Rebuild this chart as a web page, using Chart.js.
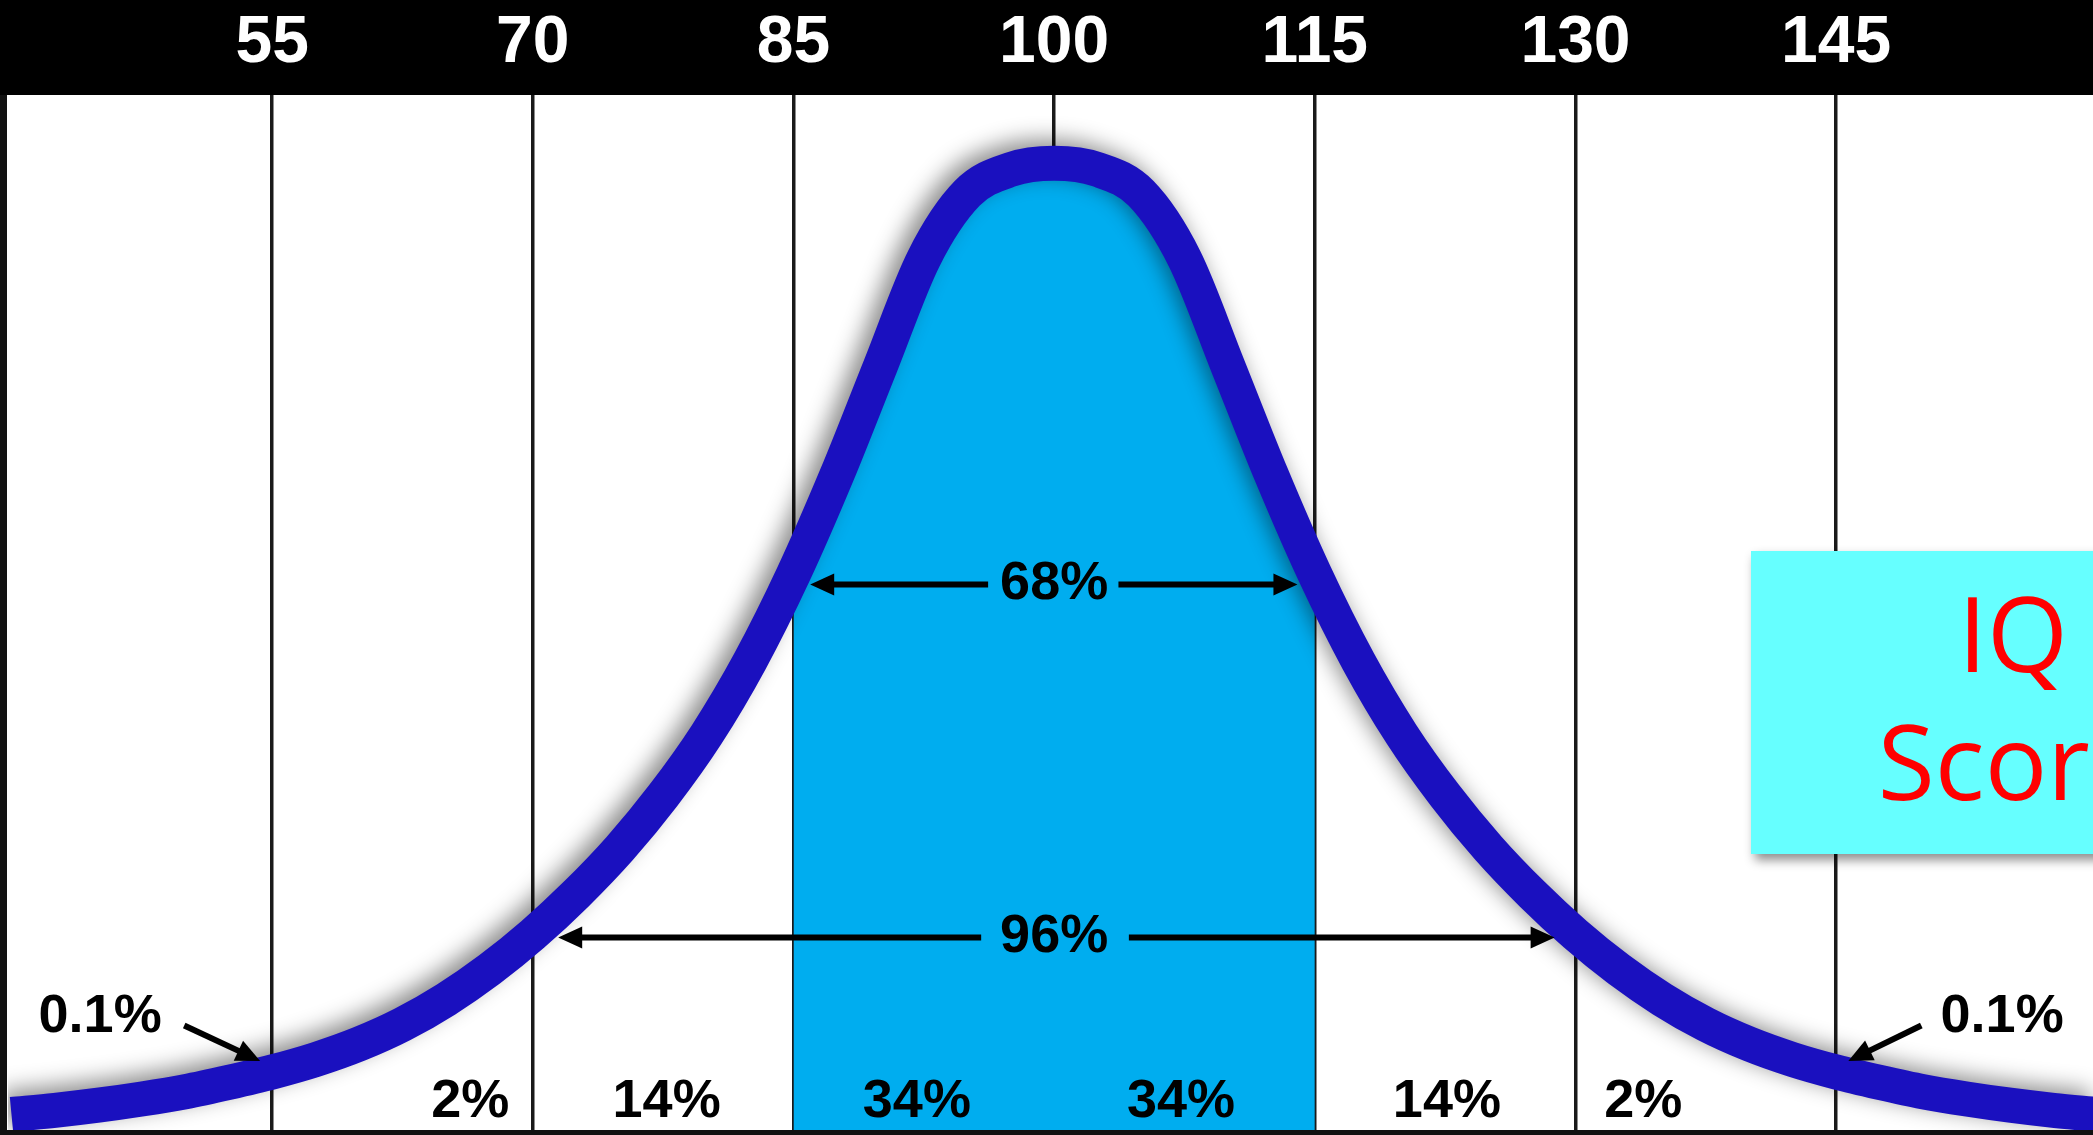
<!DOCTYPE html>
<html><head><meta charset="utf-8">
<script src="https://cdn.jsdelivr.net/npm/chart.js@4.4.1/dist/chart.umd.min.js"></script>
<style>html,body{margin:0;padding:0;background:#fff;overflow:hidden}#wrap{width:2093px;height:1135px;position:relative}canvas{display:block}</style>
</head><body><div id="wrap"><canvas id="c" width="2093" height="1135"></canvas></div>
<script>
// ---- data ----
const iqScores = [40,42.5,45,47.5,50,52.5,55,57.5,60,62.5,65,67.5,70,72.5,75,77.5,80,82.5,85,87.5,90,92.5,95,97.5,
                  100,102.5,105,107.5,110,112.5,115,117.5,120,122.5,125,127.5,130,132.5,135,137.5,140,142.5,145,147.5,150,152.5,155,157.5,160];
const curveHeights = [1.5,1.9,2.4,3.0,3.7,4.6,5.6,6.8,8.3,10.2,12.6,15.5,18.9,22.8,27.2,32.3,38.2,45.3,53.7,63.3,73.8,84.2,90.5,92.8,
                      93.4,92.8,90.5,84.2,73.8,63.3,53.7,45.3,38.2,32.3,27.2,22.8,18.9,15.5,12.6,10.2,8.3,6.8,5.6,4.6,3.7,3.0,2.4,1.9,1.5];
const tickScores = [55,70,85,100,115,130,145];
const coreRange = [85,115];
const bandLabels = ['2%','14%','34%','34%','14%','2%'];
const spanLabels = ['68%','96%'];
const tailLabel = '0.1%';
const boxLines = ['IQ','Score'];

// ---- annotation placement (chart units) ----
const annot = {
  bandX: [66.4, 77.7, 92.1, 107.3, 122.6, 133.9], bandY: 2.7,
  spans: [
    {x: 100, y: 52.7, left: [96.2, 85.96], right: [103.7, 114.0]},
    {x: 100, y: 18.6, left: [95.8, 71.46], right: [104.3, 128.8]}
  ],
  tails: [
    {tx: 45.1, ty: 10.9, from: [49.94, 10.1], to: [54.31, 6.67]},
    {tx: 154.55, ty: 10.9, from: [149.9, 10.1], to: [145.7, 6.67]}
  ]
};

const pts = iqScores.map((x, i) => ({x, y: curveHeights[i]}));
const core = pts.filter(p => p.x >= coreRange[0] && p.x <= coreRange[1]);

function arrow(ctx, x1, y1, x2, y2, w, hl, hw) {
  const ang = Math.atan2(y2 - y1, x2 - x1);
  const bx = x2 - hl * Math.cos(ang), by = y2 - hl * Math.sin(ang);
  ctx.lineWidth = w; ctx.strokeStyle = '#000'; ctx.fillStyle = '#000';
  ctx.beginPath(); ctx.moveTo(x1, y1); ctx.lineTo(bx + 2*Math.cos(ang), by + 2*Math.sin(ang)); ctx.stroke();
  ctx.beginPath(); ctx.moveTo(x2, y2);
  ctx.lineTo(bx + hw / 2 * Math.sin(ang), by - hw / 2 * Math.cos(ang));
  ctx.lineTo(bx - hw / 2 * Math.sin(ang), by + hw / 2 * Math.cos(ang));
  ctx.closePath(); ctx.fill();
}

const deco = {
  id: 'deco',
  beforeDraw(chart) {
    const {ctx, chartArea: a, width, height} = chart;
    ctx.save();
    ctx.fillStyle = '#fff'; ctx.fillRect(0, 0, width, height);
    ctx.fillStyle = '#000'; ctx.fillRect(0, 0, width, a.top);
    ctx.restore();
  },
  beforeDatasetDraw(chart, args) {
    if (args.index === 0) {
      const c = chart.ctx; c.save();
      c.shadowColor = 'rgba(0,0,0,0.45)'; c.shadowBlur = 22; c.shadowOffsetX = -8; c.shadowOffsetY = -6;
    }
  },
  afterDatasetDraw(chart, args) { if (args.index === 0) chart.ctx.restore(); },
  afterDatasetsDraw(chart) {
    const {ctx, scales: {x, y}} = chart;
    const X = v => x.getPixelForValue(v), Y = v => y.getPixelForValue(v);
    ctx.save();
    ctx.fillStyle = '#000';
    ctx.font = 'bold 54px "Liberation Sans", Arial, sans-serif';
    ctx.textAlign = 'center'; ctx.textBaseline = 'middle';
    bandLabels.forEach((t, i) => ctx.fillText(t, X(annot.bandX[i]), Y(annot.bandY)));
    annot.spans.forEach((s, i) => {
      ctx.fillStyle = '#000';
      ctx.fillText(spanLabels[i], X(s.x), Y(s.y));
      arrow(ctx, X(s.left[0]), Y(s.y), X(s.left[1]), Y(s.y), 6, 24, 22);
      arrow(ctx, X(s.right[0]), Y(s.y), X(s.right[1]), Y(s.y), 6, 24, 22);
    });
    annot.tails.forEach(t => {
      ctx.fillStyle = '#000';
      ctx.fillText(tailLabel, X(t.tx), Y(t.ty));
      arrow(ctx, X(t.from[0]), Y(t.from[1]), X(t.to[0]), Y(t.to[1]), 6, 24, 22);
    });
    ctx.restore();
  },
  afterDraw(chart) {
    const {ctx, chartArea: a, width, height} = chart;
    ctx.save();
    ctx.fillStyle = '#111';
    ctx.fillRect(0, a.top, 7, height - a.top);
    ctx.fillRect(0, a.bottom, width, height - a.bottom);
    ctx.save();
    ctx.shadowColor = 'rgba(0,0,0,0.45)'; ctx.shadowBlur = 10; ctx.shadowOffsetX = 4; ctx.shadowOffsetY = 6;
    ctx.fillStyle = '#66ffff';
    ctx.fillRect(1751, 551, 420, 303);
    ctx.restore();
    ctx.fillStyle = '#ff0000';
    ctx.font = '104px "Open Sans", sans-serif';
    ctx.textAlign = 'center'; ctx.textBaseline = 'alphabetic';
    ctx.fillText(boxLines[0], 2013, 672);
    ctx.fillText(boxLines[1], 2013, 800);
    ctx.restore();
  }
};

new Chart(document.getElementById('c'), {
  type: 'line',
  data: {datasets: [
    {label: 'curve', data: pts, borderColor: '#1a10bf', borderWidth: 35, pointRadius: 0, fill: false,
     cubicInterpolationMode: 'monotone', order: 0, clip: 0, borderJoinStyle: 'round'},
    {label: 'core', data: core, borderWidth: 0, borderColor: 'rgba(0,0,0,0)', backgroundColor: '#00adef', fill: 'origin',
     pointRadius: 0, cubicInterpolationMode: 'monotone', order: 1, clip: 0}
  ]},
  options: {
    responsive: false, animation: false, devicePixelRatio: 1,
    layout: {padding: {left: 8, right: 0, top: 0, bottom: 5}},
    plugins: {legend: {display: false}, tooltip: {enabled: false}},
    scales: {
      x: {type: 'linear', position: 'top', min: 39.8, max: 159.78,
        afterBuildTicks: s => { s.ticks = tickScores.map(v => ({value: v})); },
        afterFit: s => { s.height = 95; },
        grid: {color: '#1a1a1a', lineWidth: 3.5, drawTicks: false},
        border: {display: false},
        ticks: {color: '#fff', font: {family: '"Liberation Sans", Arial, sans-serif', size: 66, weight: 'bold', lineHeight: 1.2},
                padding: 12, maxRotation: 0, autoSkip: false}},
      y: {type: 'linear', min: 0, max: 100, display: false}
    }
  },
  plugins: [deco]
});
</script></body></html>
